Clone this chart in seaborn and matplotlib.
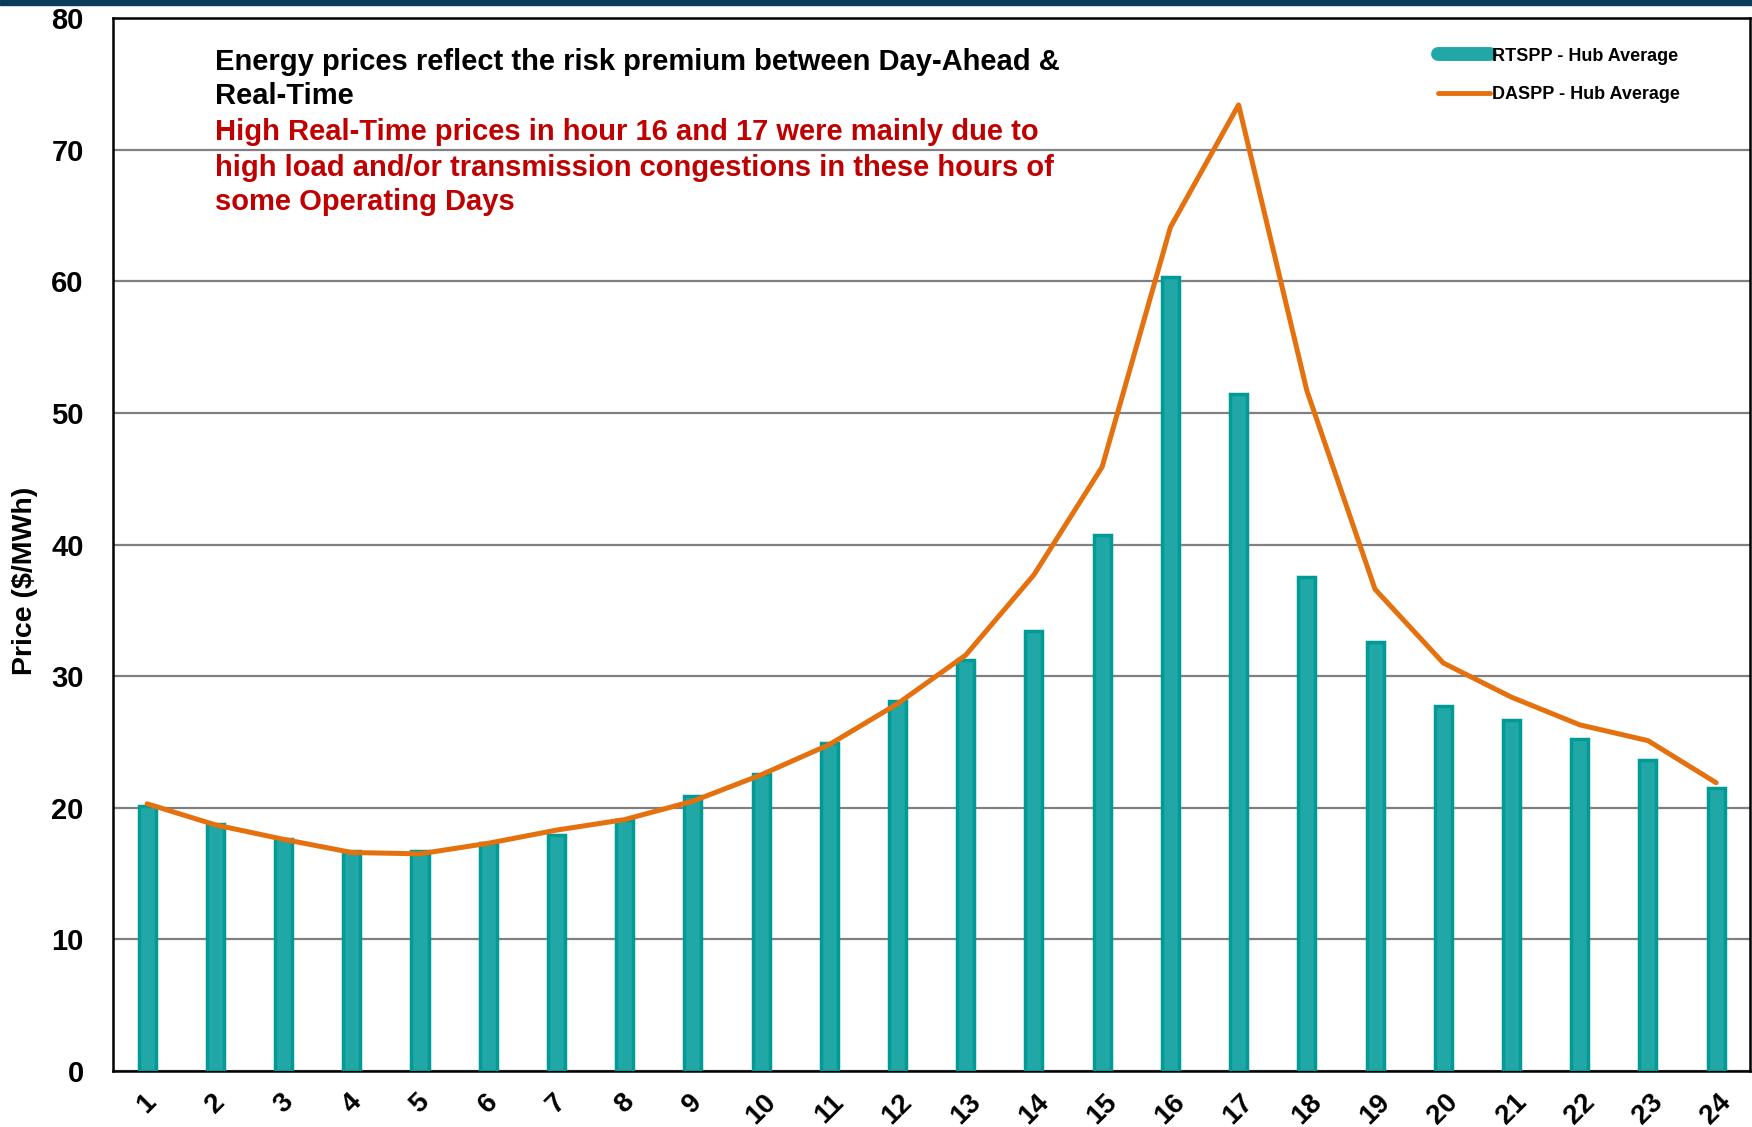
import matplotlib
matplotlib.use("Agg")
import matplotlib.pyplot as plt
import seaborn as sns
import pandas as pd
from matplotlib.lines import Line2D
from matplotlib.patches import Rectangle
from matplotlib.ticker import MultipleLocator, FixedLocator

hours = [str(h) for h in range(1, 25)]
rtspp = [20.1, 18.8, 17.6, 16.7, 16.7, 17.3, 17.9, 19.1, 20.9, 22.6, 24.9, 28.1,
         31.2, 33.4, 40.7, 60.3, 51.4, 37.5, 32.6, 27.7, 26.7, 25.2, 23.6, 21.5]
daspp = [20.3, 18.7, 17.6, 16.6, 16.5, 17.3, 18.3, 19.1, 20.5, 22.5, 24.8, 27.9,
         31.6, 37.7, 45.9, 64.1, 73.4, 51.7, 36.6, 31.0, 28.4, 26.3, 25.1, 21.9]
series_names = ["RTSPP - Hub Average", "DASPP - Hub Average"]
y_label = "Price ($/MWh)"
note_black = ["Energy prices reflect the risk premium between Day-Ahead &",
              "Real-Time"]
note_red = ["High Real-Time prices in hour 16 and 17 were mainly due to",
            "high load and/or transmission congestions in these hours of",
            "some Operating Days"]

sns.set_style("white")
plt.rcParams['font.family'] = ['Liberation Sans', 'DejaVu Sans']
plt.rcParams['font.weight'] = 'bold'
plt.rcParams['text.color'] = 'black'
plt.rcParams['axes.labelcolor'] = 'black'
plt.rcParams['xtick.labelcolor'] = 'black'
plt.rcParams['ytick.labelcolor'] = 'black'

df = pd.DataFrame({"hour": hours, "rt": rtspp, "da": daspp})

teal = "#20a7a6"
teal_edge = "#009b97"
orange = "#e4700e"

fig = plt.figure(figsize=(17.52, 11.27), dpi=100)
ax = fig.add_axes([0.0645, 0.0497, 0.9345, 0.9343])

sns.barplot(data=df, x="hour", y="rt", ax=ax, color=teal, width=0.25,
            edgecolor=teal_edge, linewidth=2.5, saturation=1, zorder=3)
sns.lineplot(data=df, x="hour", y="da", ax=ax, color=orange, linewidth=3.6,
             sort=False, zorder=4)

ax.set_xlim(-0.5, 23.5)
ax.set_ylim(0, 80)
ax.yaxis.set_major_locator(MultipleLocator(10))
ax.yaxis.set_minor_locator(MultipleLocator(5))
ax.grid(axis="y", which="major", color="#808080", linewidth=1.6, zorder=0)
ax.set_axisbelow(True)

ax.set_xticks(range(24))
ax.set_xticklabels(hours, rotation=45, ha="center", fontsize=20, fontweight="bold",
                   color="black")
ax.xaxis.set_minor_locator(FixedLocator([i - 0.5 for i in range(25)]))
ax.tick_params(axis="x", which="major", length=0, pad=13)
ax.tick_params(axis="x", which="minor", length=7, width=1.2, color="#333333", direction="out")
ax.tick_params(axis="y", which="both", length=7, width=1.2, color="#333333", direction="out",
               labelsize=21, labelcolor="black")
for lab in ax.get_yticklabels():
    lab.set_fontweight("bold")
ax.tick_params(axis="y", which="major", pad=14)
ax.set_xlabel("")
ax.set_ylabel(y_label, fontsize=20.5, fontweight="bold", color="black")
ax.yaxis.set_label_coords(-0.046, 0.4655)

for sp in ax.spines.values():
    sp.set_visible(True)
    sp.set_color("black")
    sp.set_linewidth(1.8)

line_y = [76.69, 74.06, 71.35, 68.63, 66.0]
for txt, y in zip(note_black + note_red, line_y):
    col = "black" if txt in note_black else "#c00000"
    ax.text(1.0, y, txt, fontsize=21, fontweight="bold", color=col,
            va="center", ha="left", zorder=5)

handles = [Line2D([0], [0], color=teal, linewidth=10, solid_capstyle="round"),
           Line2D([0], [0], color=orange, linewidth=3.5, solid_capstyle="round")]
leg = ax.legend(handles, series_names, loc="upper right", bbox_to_anchor=(0.957, 0.972),
                frameon=False, prop={"weight": "bold", "size": 13},
                handlelength=2.9, handletextpad=0.1, labelspacing=1.2,
                borderpad=0, borderaxespad=0, labelcolor="black")

fig.patches.append(Rectangle((0, 0.996), 1, 0.004, transform=fig.transFigure,
                             color="#0b3a5a", zorder=10))

fig.savefig("out.png", dpi=100)
